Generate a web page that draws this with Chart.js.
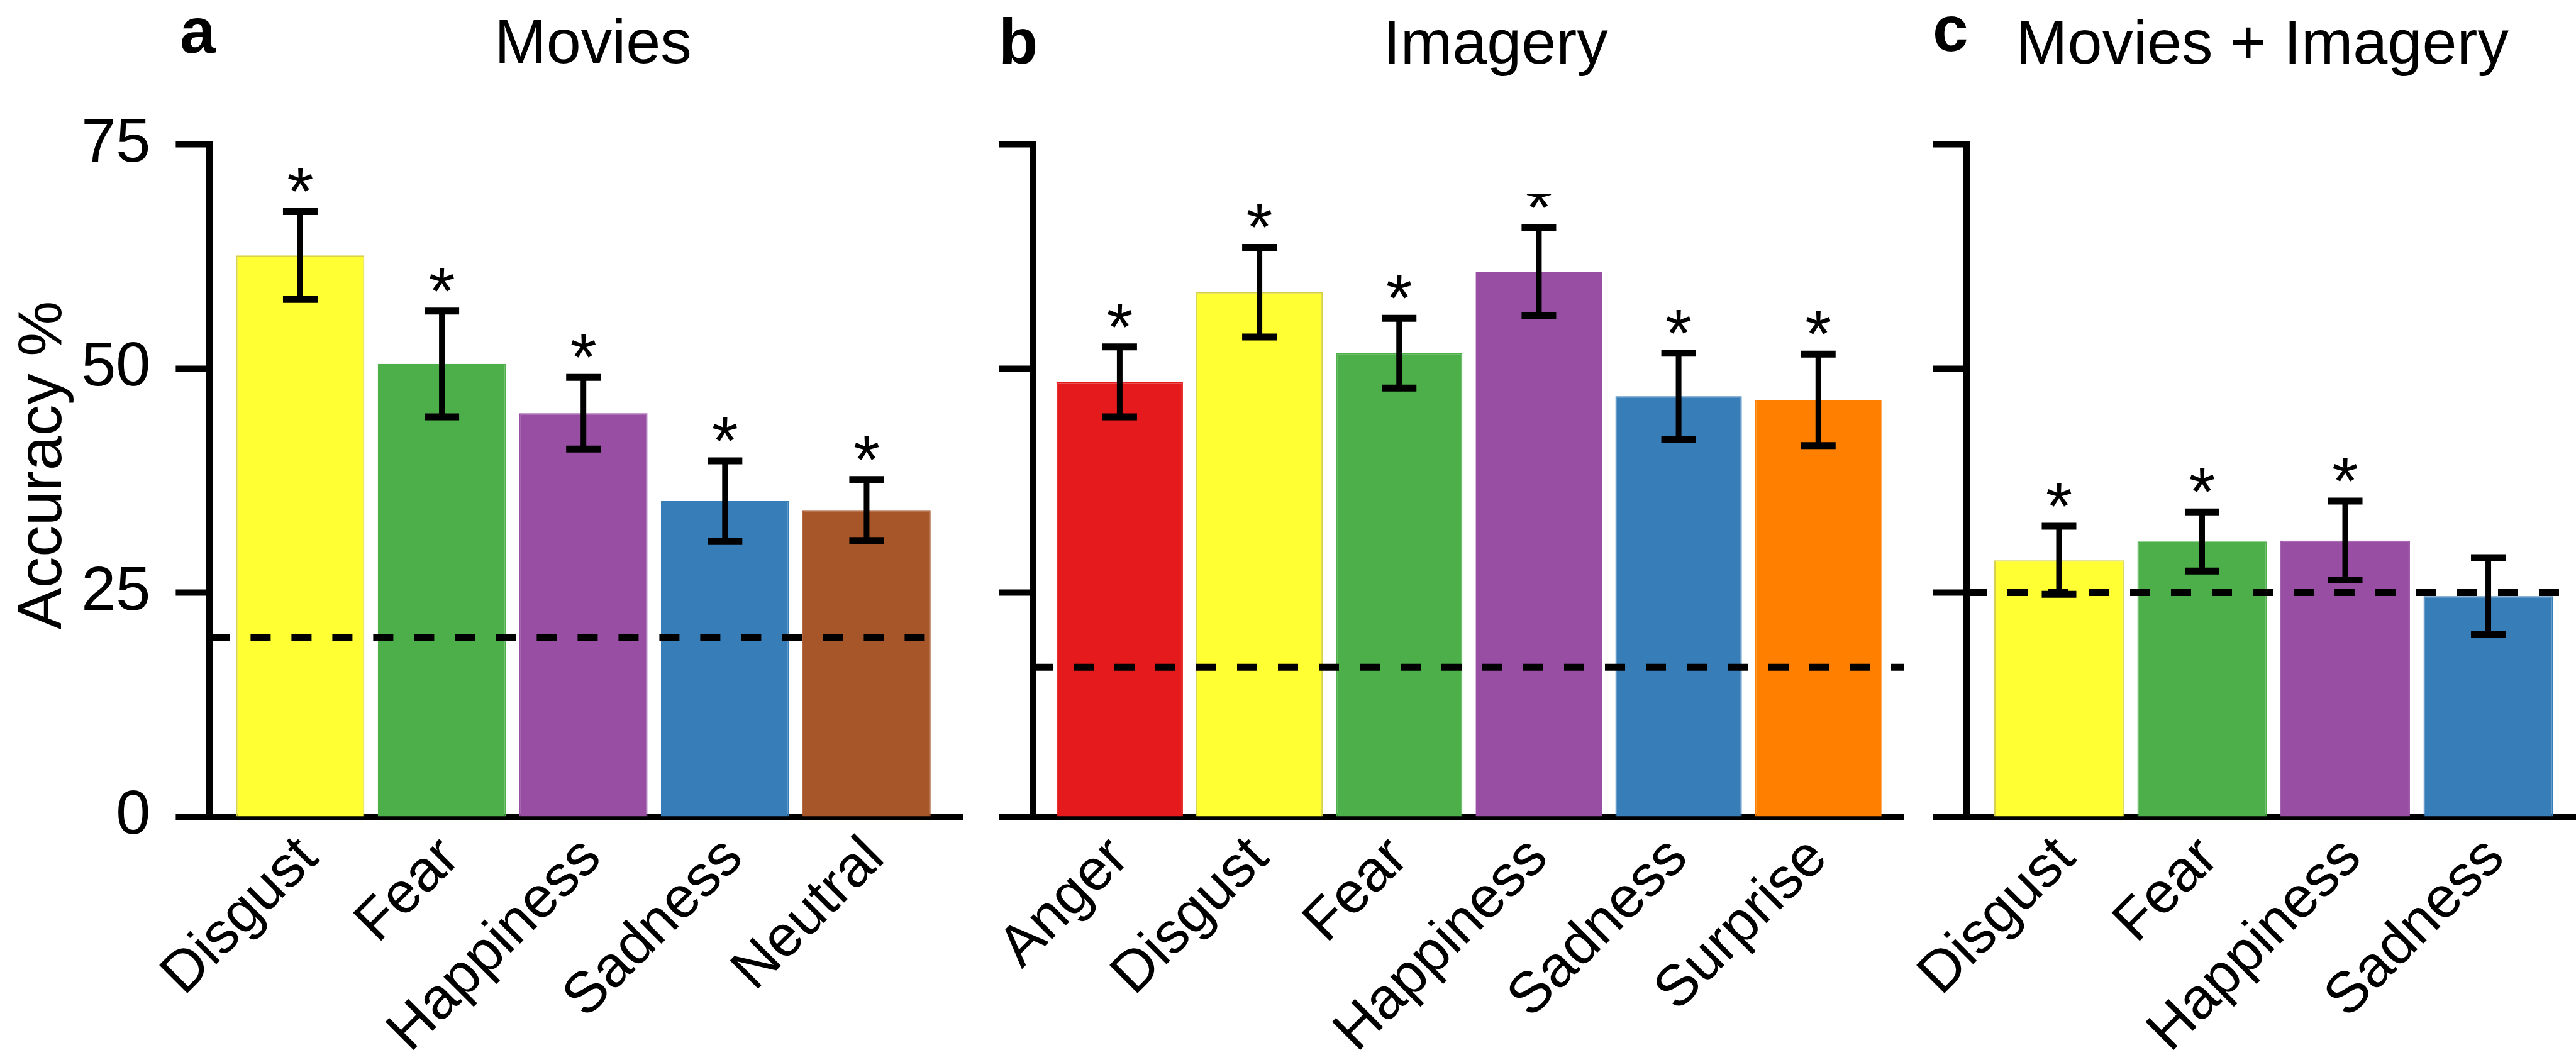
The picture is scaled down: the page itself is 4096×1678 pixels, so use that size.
<!DOCTYPE html>
<html>
<head>
<meta charset="utf-8">
<script src="https://cdn.jsdelivr.net/npm/chart.js@4.4.1/dist/chart.umd.min.js"></script>
<style>
  html, body { margin: 0; padding: 0; background: #ffffff; }
  #figure { position: relative; width: 4096px; height: 1678px; overflow: hidden; background: #ffffff; }
  #figure canvas { position: absolute; left: 0; top: 0; }
</style>
</head>
<body>
<div id="figure">
  <canvas id="movies" width="4096" height="1678"></canvas>
  <canvas id="imagery" width="4096" height="1678"></canvas>
  <canvas id="combined" width="4096" height="1678"></canvas>
</div>
<script>
// ---- Classification accuracy (%) per emotion, mean and error ----
const moviesLabels = ['Disgust', 'Fear', 'Happiness', 'Sadness', 'Neutral'];
const moviesAccuracy = [62.6, 50.5, 45.0, 35.2, 34.2];
const moviesError = [4.9, 5.9, 4.0, 4.5, 3.4];
const moviesSignificant = [true, true, true, true, true];
const moviesChance = 20;

const imageryLabels = ['Anger', 'Disgust', 'Fear', 'Happiness', 'Sadness', 'Surprise'];
const imageryAccuracy = [48.5, 58.5, 51.7, 60.8, 46.9, 46.5];
const imageryError = [3.9, 5.0, 3.9, 4.9, 4.8, 5.1];
const imagerySignificant = [true, true, true, true, true, true];
const imageryChance = 100 / 6;

const combinedLabels = ['Disgust', 'Fear', 'Happiness', 'Sadness'];
const combinedAccuracy = [28.6, 30.7, 30.8, 24.6];
const combinedError = [3.8, 3.3, 4.4, 4.3];
const combinedSignificant = [true, true, true, false];
const combinedChance = 25;

const yTickValues = [0, 25, 50, 75];
const yTickLabels = ['0', '25', '50', '75'];
const yAxisTitle = 'Accuracy %';

// ---- Styling ----
const FONT = '"Liberation Sans", Arial, Helvetica, sans-serif';
const TEXT_SIZE = 99;
const CATEGORY_SIZE = 92;
const emotionColors = {
  Anger: '#E41A1C', Disgust: '#FFFF33', Fear: '#4DAF4A', Happiness: '#984EA3',
  Sadness: '#377EB8', Neutral: '#A65628', Surprise: '#FF7F00'
};
const emotionEdges = { Disgust: '#D6D04A' };
const BAR_PCT = 0.905;
const CHART_TOP = 229.5;     // pixel of the 75 % gridline
const CHART_BOTTOM = 1299;   // pixel of the 0 % baseline

// Error bars with caps, plus significance stars above them
const errorBars = {
  id: 'errorBars',
  afterDatasetsDraw(chart, args, opts) {
    const meta = chart.getDatasetMeta(0);
    const yScale = chart.scales.y;
    const ctx = chart.ctx;
    ctx.save();
    ctx.strokeStyle = '#000';
    ctx.fillStyle = '#000';
    ctx.lineCap = 'butt';
    opts.values.forEach((v, i) => {
      const x = meta.data[i].x;
      const top = yScale.getPixelForValue(v + opts.errors[i]);
      const bot = yScale.getPixelForValue(v - opts.errors[i]);
      ctx.lineWidth = 9;
      ctx.beginPath(); ctx.moveTo(x, top); ctx.lineTo(x, bot); ctx.stroke();
      ctx.lineWidth = 11;
      ctx.beginPath();
      ctx.moveTo(x - opts.capWidth / 2, top); ctx.lineTo(x + opts.capWidth / 2, top);
      ctx.moveTo(x - opts.capWidth / 2, bot); ctx.lineTo(x + opts.capWidth / 2, bot);
      ctx.stroke();
    });
    // stars
    ctx.save();
    if (opts.starClipTop != null) {
      ctx.beginPath();
      ctx.rect(0, opts.starClipTop, chart.width, chart.height - opts.starClipTop);
      ctx.clip();
    }
    ctx.font = `${opts.starSize}px ${FONT}`;
    ctx.textAlign = 'center';
    ctx.textBaseline = 'alphabetic';
    const m = ctx.measureText('*');
    const lift = (m.actualBoundingBoxAscent - m.actualBoundingBoxDescent) / 2;
    opts.values.forEach((v, i) => {
      if (!opts.stars[i]) return;
      const x = meta.data[i].x;
      const top = yScale.getPixelForValue(v + opts.errors[i]);
      ctx.fillText('*', x, top - opts.starGap + lift);
    });
    ctx.restore();
    ctx.restore();
  }
};

// Panel letter, panel heading and (optionally) the vertical axis title
const panelHeading = {
  id: 'panelHeading',
  afterDraw(chart, args, opts) {
    const ctx = chart.ctx;
    ctx.save();
    ctx.fillStyle = '#000';
    ctx.textBaseline = 'alphabetic';
    ctx.textAlign = 'left';
    ctx.font = `bold ${opts.letterSize}px ${FONT}`;
    ctx.fillText(opts.letter, opts.letterX, opts.letterY);
    ctx.textAlign = 'center';
    ctx.font = `${opts.titleSize}px ${FONT}`;
    ctx.fillText(opts.title, opts.titleX, opts.titleY);
    if (opts.axisTitle) {
      ctx.translate(opts.axisTitleX, opts.axisTitleY);
      ctx.rotate(-Math.PI / 2);
      ctx.textAlign = 'center';
      ctx.textBaseline = 'middle';
      ctx.fillText(opts.axisTitle, 0, 0);
    }
    ctx.restore();
  }
};

const panels = [
  {
    id: 'movies', letter: 'a', title: 'Movies',
    labels: moviesLabels, values: moviesAccuracy, errors: moviesError,
    stars: moviesSignificant, chance: moviesChance,
    axisX: 333.4, right: 1531, xMin: -0.64, xMax: 4.68, labelShift: 0.062,
    letterX: 286, letterY: 84, titleX: 943, titleY: 100,
    yLabels: true, chanceToEnd: false, starClipTop: null
  },
  {
    id: 'imagery', letter: 'b', title: 'Imagery',
    labels: imageryLabels, values: imageryAccuracy, errors: imageryError,
    stars: imagerySignificant, chance: imageryChance,
    axisX: 1642, right: 3027, xMin: -0.623, xMax: 5.611, labelShift: 0.0,
    letterX: 1588, letterY: 101, titleX: 2378, titleY: 101,
    yLabels: false, chanceToEnd: true, starClipTop: 309
  },
  {
    id: 'combined', letter: 'c', title: 'Movies + Imagery',
    labels: combinedLabels, values: combinedAccuracy, errors: combinedError,
    stars: combinedSignificant, chance: combinedChance,
    axisX: 3127, right: 4096, xMin: -0.646, xMax: 3.613, labelShift: 0.05,
    letterX: 3073, letterY: 81, titleX: 3597, titleY: 101,
    yLabels: false, chanceToEnd: true, starClipTop: null
  }
];

panels.forEach(p => {
  const barData = p.labels.map((name, i) => ({ x: i, y: p.values[i] }));
  const fills = p.labels.map(name => emotionColors[name]);
  const edges = p.labels.map(name => emotionEdges[name] || emotionColors[name]);
  const chanceEnd = p.chanceToEnd ? p.xMax : (p.labels.length - 1) + BAR_PCT / 2;

  new Chart(document.getElementById(p.id), {
    type: 'bar',
    data: {
      datasets: [
        {
          type: 'bar',
          data: barData,
          backgroundColor: fills,
          borderColor: edges,
          borderWidth: 2,
          borderSkipped: 'start',
          barPercentage: BAR_PCT,
          categoryPercentage: 1.0,
          order: 1
        },
        {
          type: 'line',
          data: [{ x: p.xMin, y: p.chance }, { x: chanceEnd, y: p.chance }],
          borderColor: '#000',
          borderWidth: 11,
          borderDash: [32, 33],
          borderCapStyle: 'butt',
          pointRadius: 0,
          fill: false,
          order: 0
        }
      ]
    },
    options: {
      responsive: false,
      animation: false,
      devicePixelRatio: 1,
      layout: { padding: { left: 0, right: 4096 - p.right, top: CHART_TOP, bottom: 0 } },
      plugins: {
        legend: { display: false },
        tooltip: { enabled: false },
        errorBars: {
          values: p.values, errors: p.errors, stars: p.stars,
          capWidth: 55, starSize: 108, starGap: 50, starClipTop: p.starClipTop
        },
        panelHeading: {
          letter: p.letter, letterX: p.letterX, letterY: p.letterY, letterSize: 102,
          title: p.title, titleX: p.titleX, titleY: p.titleY, titleSize: TEXT_SIZE,
          axisTitle: p.yLabels ? yAxisTitle : null, axisTitleX: 70, axisTitleY: 740
        }
      },
      scales: {
        x: {
          type: 'linear',
          min: p.xMin,
          max: p.xMax,
          offset: false,
          afterBuildTicks: axis => {
            axis.ticks = p.labels.map((name, i) => ({ value: i + p.labelShift }));
          },
          afterFit: scale => { scale.height = 1678 - CHART_BOTTOM; },
          grid: { display: true, drawOnChartArea: false, drawTicks: false },
          border: { display: true, color: '#000', width: 10 },
          ticks: {
            autoSkip: false,
            maxRotation: 45,
            minRotation: 45,
            padding: 12,
            color: '#000',
            font: { family: FONT, size: CATEGORY_SIZE },
            callback: value => p.labels[Math.round(value - p.labelShift)]
          }
        },
        y: {
          type: 'linear',
          position: 'left',
          min: 0,
          max: 75,
          afterBuildTicks: axis => {
            axis.ticks = yTickValues.map(v => ({ value: v }));
          },
          afterFit: scale => { scale.width = p.axisX; },
          grid: {
            display: true, drawOnChartArea: false, drawTicks: true,
            tickLength: 54, tickWidth: 10, tickColor: '#000'
          },
          border: { display: true, color: '#000', width: 10 },
          ticks: {
            display: p.yLabels,
            padding: 40,
            color: '#000',
            font: { family: FONT, size: TEXT_SIZE },
            callback: value => yTickLabels[yTickValues.indexOf(value)]
          },
          title: { display: false }
        }
      }
    },
    plugins: [errorBars, panelHeading]
  });
});
</script>
</body>
</html>
